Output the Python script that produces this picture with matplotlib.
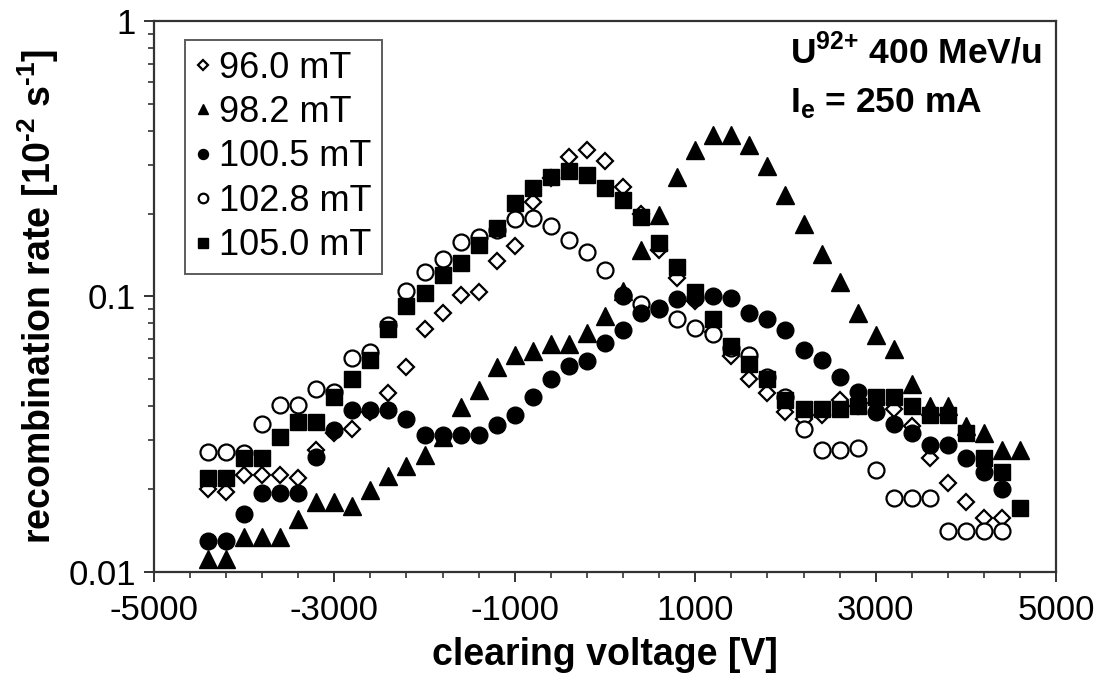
import numpy as np
import matplotlib
matplotlib.use("Agg")
import matplotlib.pyplot as plt
from matplotlib.ticker import FixedLocator, NullFormatter, FixedFormatter

plt.rcParams['font.family'] = ['Liberation Sans', 'DejaVu Sans']
plt.rcParams['axes.unicode_minus'] = False
plt.rcParams['mathtext.fontset'] = 'custom'
plt.rcParams['mathtext.rm'] = 'Liberation Sans:bold'
plt.rcParams['mathtext.bf'] = 'Liberation Sans:bold'

nan = np.nan

# clearing voltage [V]
voltage = [-4400, -4200, -4000, -3800, -3600, -3400, -3200, -3000, -2800, -2600,
           -2400, -2200, -2000, -1800, -1600, -1400, -1200, -1000, -800, -600,
           -400, -200, 0, 200, 400, 600, 800, 1000, 1200, 1400,
           1600, 1800, 2000, 2200, 2400, 2600, 2800, 3000, 3200, 3400,
           3600, 3800, 4000, 4200, 4400, 4600]

# recombination rate [1e-2 / s] for each magnetic field
rate_960 = [0.020, 0.0195, 0.0224, 0.0224, 0.0224, 0.0219, 0.0277, 0.032, 0.033, 0.038,
            0.0447, 0.0556, 0.0763, 0.087, 0.101, 0.104, 0.134, 0.153, 0.221, 0.27,
            0.32, 0.34, 0.31, 0.25, 0.20, 0.147, 0.117, 0.096, 0.074, 0.061,
            0.050, 0.0445, 0.038, 0.036, 0.037, 0.042, 0.040, 0.041, 0.039, 0.034,
            0.026, 0.021, 0.018, 0.0157, 0.0157, nan]
rate_982 = [0.0111, 0.0111, 0.0134, 0.0134, 0.0134, 0.0155, 0.018, 0.018, 0.0174, 0.0198,
            0.0222, 0.0242, 0.0266, 0.031, 0.0398, 0.0459, 0.0555, 0.0614, 0.0636, 0.0672,
            0.0672, 0.0737, 0.085, 0.105, 0.147, 0.198, 0.272, 0.34, 0.386, 0.386,
            0.356, 0.297, 0.234, 0.184, 0.143, 0.113, 0.087, 0.0725, 0.0645, 0.048,
            0.040, 0.040, 0.034, 0.032, 0.0277, 0.0277]
rate_1005 = [0.0129, 0.0129, 0.0162, 0.0193, 0.0193, 0.0193, 0.0261, 0.0328, 0.0387, 0.0387,
             0.0387, 0.036, 0.0314, 0.0314, 0.0314, 0.0314, 0.0342, 0.0371, 0.0433, 0.0501,
             0.056, 0.0583, 0.0677, 0.0755, 0.087, 0.091, 0.098, 0.099, 0.100, 0.099,
             0.087, 0.083, 0.0755, 0.064, 0.059, 0.051, 0.045, 0.038, 0.0345, 0.032,
             0.029, 0.029, 0.026, 0.023, 0.020, nan]
extra_v_1005 = [200]
extra_r_1005 = [0.101]
rate_1028 = [0.0273, 0.0273, 0.027, 0.0344, 0.0404, 0.0404, 0.046, 0.045, 0.0597, 0.063,
             0.0788, 0.105, 0.123, 0.137, 0.158, 0.164, 0.175, 0.191, 0.193, 0.180,
             0.160, 0.1455, 0.125, 0.10, 0.094, 0.09, 0.0825, 0.077, 0.073, 0.065,
             0.0614, 0.051, 0.043, 0.033, 0.0277, 0.0277, 0.0282, 0.0234, 0.0186, 0.0186,
             0.0186, 0.0141, 0.0141, 0.0141, 0.0141, nan]
rate_1050 = [0.022, 0.022, 0.026, 0.026, 0.031, 0.035, 0.035, 0.043, 0.050, 0.059,
             0.076, 0.092, 0.103, 0.120, 0.132, 0.154, 0.177, 0.218, 0.247, 0.272,
             0.286, 0.276, 0.247, 0.224, 0.195, 0.157, 0.128, 0.104, 0.083, 0.066,
             0.057, 0.050, 0.042, 0.039, 0.039, 0.039, 0.040, 0.043, 0.043, 0.040,
             0.037, 0.037, 0.032, 0.026, 0.023, 0.017]

fig = plt.figure(figsize=(10.99, 6.8), dpi=100)
ax = fig.add_axes([0.140, 0.159, 0.821, 0.810])

ax.plot(voltage, rate_960, linestyle='none', marker='D', markersize=8.5,
        markerfacecolor='white', markeredgecolor='black', markeredgewidth=1.6,
        label='96.0 mT', zorder=2)
ax.plot(voltage, rate_982, linestyle='none', marker='^', markersize=13,
        color='black', label='98.2 mT', zorder=2)
ax.plot(voltage, rate_1028, linestyle='none', marker='o', markersize=11.5,
        markerfacecolor='white', markeredgecolor='black', markeredgewidth=1.6,
        label='102.8 mT', zorder=3)
ax.plot(voltage, rate_1005, linestyle='none', marker='o', markersize=12,
        color='black', label='100.5 mT', zorder=4)
ax.plot(extra_v_1005, extra_r_1005, linestyle='none', marker='o', markersize=12,
        color='black', zorder=4)
ax.plot(voltage, rate_1050, linestyle='none', marker='s', markersize=11.5,
        color='black', label='105.0 mT', zorder=5)

ax.set_yscale('log')
ax.set_xlim(-5000, 5000)
ax.set_ylim(0.01, 1)

ax.xaxis.set_major_locator(FixedLocator([-5000, -3000, -1000, 1000, 3000, 5000]))
ax.xaxis.set_minor_locator(FixedLocator(list(range(-5000, 5001, 400))))
ax.yaxis.set_major_locator(FixedLocator([0.01, 0.1, 1]))
ax.yaxis.set_major_formatter(FixedFormatter(['0.01', '0.1', '1']))
ax.yaxis.set_minor_formatter(NullFormatter())

ax.tick_params(axis='both', which='major', direction='out', length=7, width=1.4,
               labelsize=25, color='#333333')
ax.tick_params(axis='x', which='major', pad=9)
ax.tick_params(axis='y', which='major', pad=6)
ax.tick_params(axis='both', which='minor', direction='out', length=4.5, width=1.2,
               color='#333333')
for s in ax.spines.values():
    s.set_linewidth(1.6)
    s.set_color('#333333')

ax.set_xlabel('clearing voltage [V]', fontsize=27, fontweight='bold', labelpad=7)
ax.set_ylabel(r'recombination rate [10$^{\text{-2}}$ s$^{\text{-1}}$]', fontsize=27,
              fontweight='bold', labelpad=5)

ax.text(0.705, 0.944, r'U$^{\text{92+}}$ 400 MeV/u', transform=ax.transAxes,
        fontsize=25.5, fontweight='bold', ha='left', va='center')
ax.text(0.705, 0.851, r'I$_{\text{e}}$ = 250 mA', transform=ax.transAxes,
        fontsize=25.5, fontweight='bold', ha='left', va='center')

# legend order as in the original
handles, labels = ax.get_legend_handles_labels()
order = ['96.0 mT', '98.2 mT', '100.5 mT', '102.8 mT', '105.0 mT']
hmap = dict(zip(labels, handles))
leg = ax.legend([hmap[k] for k in order], order, loc='upper left',
                bbox_to_anchor=(0.034, 0.966), borderaxespad=0, fontsize=26,
                markerscale=0.6, handlelength=0.4, handletextpad=0.25,
                labelspacing=0.26, borderpad=0.3, fancybox=False, frameon=True)
leg.get_frame().set_edgecolor('#333333')
leg.get_frame().set_linewidth(1.4)

fig.savefig('out.png', dpi=100)
